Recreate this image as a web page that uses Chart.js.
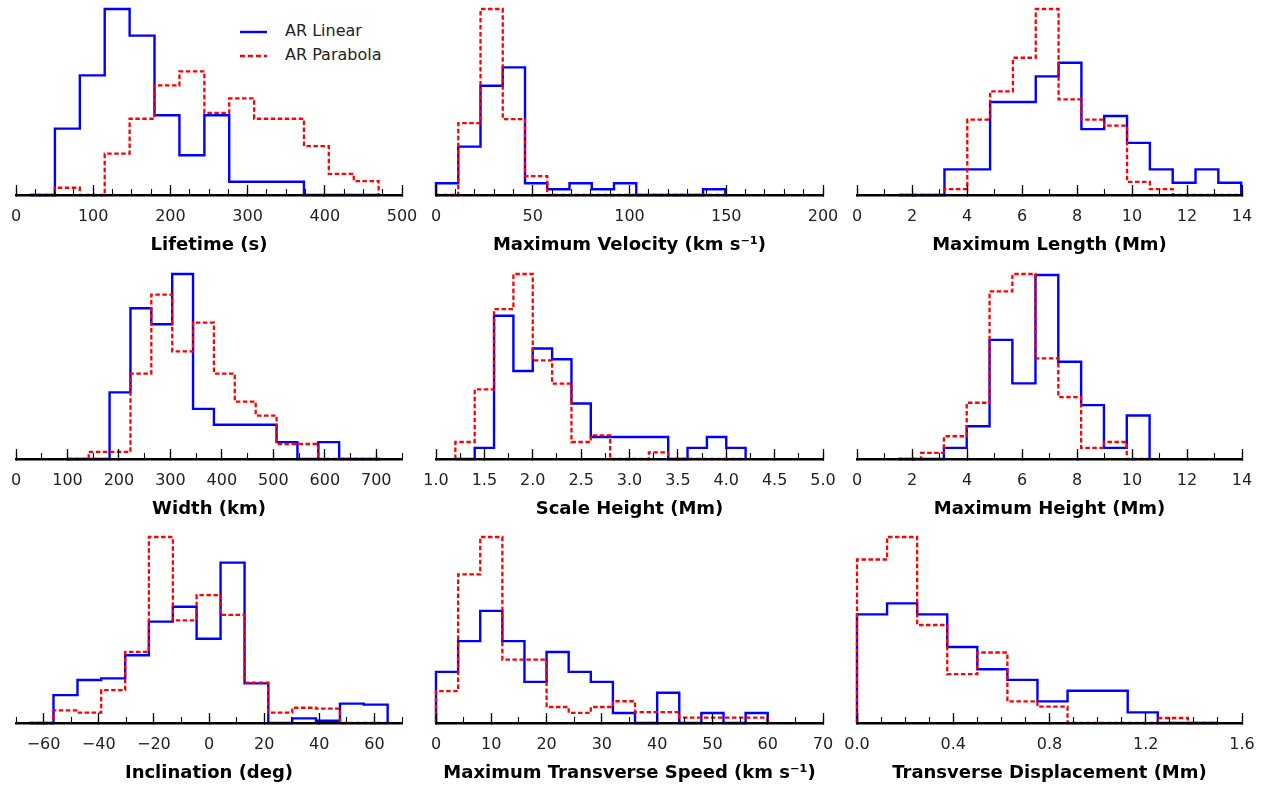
<!DOCTYPE html>
<html>
<head>
<meta charset="utf-8">
<script src="https://cdn.jsdelivr.net/npm/chart.js@4.4.1/dist/chart.umd.min.js"></script>
<style>
	body { margin: 0; background: #fff; width: 1270px; height: 789px; overflow: hidden; position: relative; font-family: "DejaVu Sans", sans-serif; }
	canvas { position: absolute; }
	.legend-row { position: absolute; left: 240px; height: 20px; font-size: 16px; color: #222; white-space: nowrap; }
	.legend-row svg { position: absolute; left: 0; top: 9px; }
	.legend-row span { position: absolute; left: 45px; top: 0; line-height: 20px; }
</style>
</head>
<body>
<div class="legend-row" style="top:21px"><svg width="28" height="4"><line x1="0" y1="2" x2="27" y2="2" stroke="#0000ff" stroke-width="2.4"/></svg><span>AR Linear</span></div>
<div class="legend-row" style="top:45px"><svg width="28" height="4"><line x1="0" y1="2" x2="27" y2="2" stroke="#ff0000" stroke-width="2.4" stroke-dasharray="5 3"/></svg><span>AR Parabola</span></div>
<script>
'use strict';

// bin edges and relative heights (peak of each panel = 1)
const lifetimeEdges = [18.2, 50.4, 82.7, 114.9, 147.2, 179.4, 211.7, 244.0, 276.2, 308.5, 340.7, 373.0, 405.2, 437.5, 469.7];
const lifetimeLinear = [0, 0.357, 0.643, 1.0, 0.857, 0.429, 0.214, 0.429, 0.071, 0.071, 0.071, 0, 0, 0];
const lifetimeParabola = [0, 0.039, 0, 0.222, 0.41, 0.589, 0.665, 0.442, 0.519, 0.41, 0.41, 0.263, 0.114, 0.075];
const lifetimeTicks = [0, 100, 200, 300, 400, 500];
const lifetimeLabels = ['0', '100', '200', '300', '400', '500'];

const velocityEdges = [0, 11.5, 23, 34.5, 46, 57.5, 69, 80.5, 92, 103.5, 115, 126.5, 138, 149.5];
const velocityLinear = [0.063, 0.26, 0.587, 0.686, 0.063, 0.031, 0.063, 0.031, 0.063, 0, 0, 0, 0.031];
const velocityParabola = [0, 0.386, 1.0, 0.408, 0.102, 0, 0, 0, 0, 0, 0, 0, 0];
const velocityTicks = [0, 50, 100, 150, 200];
const velocityLabels = ['0', '50', '100', '150', '200'];

const lengthEdges = [1.52, 2.35, 3.18, 4.01, 4.84, 5.67, 6.50, 7.33, 8.16, 8.99, 9.82, 10.65, 11.48, 12.31, 13.14, 13.97];
const lengthLinear = [0, 0, 0.138, 0.138, 0.5, 0.5, 0.638, 0.711, 0.354, 0.425, 0.28, 0.138, 0.066, 0.138, 0.066];
const lengthParabola = [0, 0, 0.032, 0.405, 0.557, 0.738, 1.0, 0.514, 0.405, 0.373, 0.071, 0.032, 0, 0, 0];
const lengthTicks = [0, 2, 4, 6, 8, 10, 12, 14];
const lengthLabels = ['0', '2', '4', '6', '8', '10', '12', '14'];

const widthEdges = [100.7, 141.2, 181.8, 222.4, 262.9, 303.5, 344.0, 384.6, 425.1, 465.7, 506.3, 546.8, 587.4, 627.9, 668.5, 709.1];
const widthLinear = [0, 0, 0.36, 0.815, 0.728, 1.0, 0.271, 0.185, 0.185, 0.185, 0.091, 0, 0.091, 0, 0];
const widthParabola = [0, 0.038, 0.038, 0.462, 0.889, 0.582, 0.737, 0.462, 0.31, 0.235, 0.081, 0.081, 0, 0, 0];
const widthTicks = [0, 100, 200, 300, 400, 500, 600, 700];
const widthLabels = ['0', '100', '200', '300', '400', '500', '600', '700'];

const scaleEdges = [1.2, 1.4, 1.6, 1.8, 2.0, 2.2, 2.4, 2.6, 2.8, 3.0, 3.2, 3.4, 3.6, 3.8, 4.0, 4.2];
const scaleLinear = [0, 0.06, 0.774, 0.476, 0.597, 0.539, 0.3, 0.119, 0.119, 0.119, 0.119, 0, 0.06, 0.119, 0.06];
const scaleParabola = [0.092, 0.376, 0.81, 1.0, 0.533, 0.407, 0.092, 0.128, 0, 0, 0.036, 0, 0, 0, 0];
const scaleTicks = [1.0, 1.5, 2.0, 2.5, 3.0, 3.5, 4.0, 4.5, 5.0];
const scaleLabels = ['1.0', '1.5', '2.0', '2.5', '3.0', '3.5', '4.0', '4.5', '5.0'];

const heightEdges = [1.50, 2.33, 3.16, 3.99, 4.82, 5.65, 6.49, 7.32, 8.15, 8.98, 9.81, 10.64];
const heightLinear = [0, 0, 0.06, 0.177, 0.644, 0.409, 0.995, 0.526, 0.291, 0.06, 0.235];
const heightParabola = [0, 0.033, 0.123, 0.304, 0.906, 1.0, 0.544, 0.335, 0.06, 0.092, 0];
const heightTicks = [0, 2, 4, 6, 8, 10, 12, 14];
const heightLabels = ['0', '2', '4', '6', '8', '10', '12', '14'];

const inclinationEdges = [-65.1, -56.4, -47.7, -39.1, -30.4, -21.8, -13.1, -4.5, 4.2, 12.9, 21.5, 30.2, 38.8, 47.5, 56.1, 64.8];
const inclinationLinear = [0, 0.15, 0.231, 0.24, 0.364, 0.545, 0.625, 0.453, 0.862, 0.213, 0, 0.025, 0.012, 0.104, 0.099];
const inclinationParabola = [0, 0.068, 0.056, 0.177, 0.382, 1.0, 0.552, 0.688, 0.581, 0.217, 0.056, 0.082, 0.077, 0, 0];
const inclinationTicks = [-60, -40, -20, 0, 20, 40, 60];
const inclinationLabels = ['\u221260', '\u221240', '\u221220', '0', '20', '40', '60'];

const speedEdges = [0, 4, 8, 12, 16, 20, 24, 28, 32, 36, 40, 44, 48, 52, 56, 60];
const speedLinear = [0.275, 0.44, 0.603, 0.44, 0.221, 0.382, 0.275, 0.221, 0.054, 0, 0.163, 0, 0.054, 0, 0.054];
const speedParabola = [0.171, 0.799, 1.0, 0.341, 0.341, 0.086, 0.054, 0.086, 0.117, 0.059, 0.059, 0.029, 0.029, 0.029, 0.029];
const speedTicks = [0, 10, 20, 30, 40, 50, 60, 70];
const speedLabels = ['0', '10', '20', '30', '40', '50', '60', '70'];

const displacementEdges = [0, 0.125, 0.25, 0.375, 0.5, 0.625, 0.75, 0.875, 1.0, 1.125, 1.25, 1.375, 1.5];
const displacementLinear = [0.584, 0.643, 0.584, 0.409, 0.289, 0.232, 0.116, 0.173, 0.173, 0.057, 0, 0];
const displacementParabola = [0.879, 1.0, 0.527, 0.263, 0.379, 0.116, 0.088, 0, 0, 0, 0.027, 0];
const displacementTicks = [0, 0.4, 0.8, 1.2, 1.6];
const displacementLabels = ['0.0', '0.4', '0.8', '1.2', '1.6'];

const panels = [
	{ title: 'Lifetime (s)', edges: lifetimeEdges, linear: lifetimeLinear, parabola: lifetimeParabola, ticks: lifetimeTicks, labels: lifetimeLabels, min: 0, max: 500, minor: 25 },
	{ title: 'Maximum Velocity (km s\u207B\u00B9)', edges: velocityEdges, linear: velocityLinear, parabola: velocityParabola, ticks: velocityTicks, labels: velocityLabels, min: 0, max: 200, minor: 10 },
	{ title: 'Maximum Length (Mm)', edges: lengthEdges, linear: lengthLinear, parabola: lengthParabola, ticks: lengthTicks, labels: lengthLabels, min: 0, max: 14, minor: 1 },
	{ title: 'Width (km)', edges: widthEdges, linear: widthLinear, parabola: widthParabola, ticks: widthTicks, labels: widthLabels, min: 0, max: 750, minor: 50 },
	{ title: 'Scale Height (Mm)', edges: scaleEdges, linear: scaleLinear, parabola: scaleParabola, ticks: scaleTicks, labels: scaleLabels, min: 1, max: 5, minor: 0.25 },
	{ title: 'Maximum Height (Mm)', edges: heightEdges, linear: heightLinear, parabola: heightParabola, ticks: heightTicks, labels: heightLabels, min: 0, max: 14, minor: 1 },
	{ title: 'Inclination (deg)', edges: inclinationEdges, linear: inclinationLinear, parabola: inclinationParabola, ticks: inclinationTicks, labels: inclinationLabels, min: -70, max: 70, minor: 10 },
	{ title: 'Maximum Transverse Speed (km s\u207B\u00B9)', edges: speedEdges, linear: speedLinear, parabola: speedParabola, ticks: speedTicks, labels: speedLabels, min: 0, max: 70, minor: 5 },
	{ title: 'Transverse Displacement (Mm)', edges: displacementEdges, linear: displacementLinear, parabola: displacementParabola, ticks: displacementTicks, labels: displacementLabels, min: 0, max: 1.6, minor: 0.1 },
];

const colLeft = [16, 436, 857];
const colRight = [402, 823, 1242];
const rowTop = [9, 274, 537];
const rowBase = [195, 459, 723];

const padX = 40;
const padTop = 8;
const padBottom = 4;
const axisHeight = 61;

Chart.defaults.font.family = '"DejaVu Sans", sans-serif';

// outline of a step histogram: up at the first edge, across each bin, down at the last edge
const stepPoints = (edges, heights) => {
	const pts = [{ x: edges[0], y: 0 }];
	for (let i = 0; i < heights.length; i++) {
		pts.push({ x: edges[i], y: heights[i] });
	}
	pts.push({ x: edges[edges.length - 1], y: 0 });
	return pts;
};

const drawPanel = (p, idx) => {
	const col = idx % 3;
	const row = Math.floor(idx / 3);
	const left = colLeft[col];
	const right = colRight[col];
	const top = rowTop[row];
	const base = rowBase[row];

	const canvas = document.createElement('canvas');
	canvas.width = right - left + 2 * padX;
	canvas.height = base - top + padTop + axisHeight + padBottom;
	canvas.style.left = (left - padX) + 'px';
	canvas.style.top = (top - padTop) + 'px';
	document.body.appendChild(canvas);

	new Chart(canvas.getContext('2d'), {
		type: 'line',
		data: {
			datasets: [
				{
					label: 'AR Linear',
					data: stepPoints(p.edges, p.linear),
					borderColor: '#0000ff',
					borderWidth: 2.4,
					stepped: true,
					pointRadius: 0,
					fill: false,
					clip: false,
					order: 1,
					xAxisID: 'x',
					yAxisID: 'y',
				},
				{
					label: 'AR Parabola',
					data: stepPoints(p.edges, p.parabola),
					borderColor: '#ff0000',
					borderWidth: 2.3,
					borderDash: [4.5, 2.5],
					stepped: true,
					pointRadius: 0,
					fill: false,
					clip: false,
					order: 0,
					xAxisID: 'x',
					yAxisID: 'y',
				},
			],
		},
		options: {
			responsive: false,
			animation: false,
			events: [],
			layout: { padding: { left: padX, right: padX, top: padTop, bottom: padBottom } },
			plugins: { legend: { display: false }, tooltip: { enabled: false } },
			scales: {
				x: {
					type: 'linear',
					position: 'bottom',
					min: p.min,
					max: p.max,
					border: { display: true, color: '#000', width: 2.6, z: 2 },
					grid: { z: 2, drawOnChartArea: false, drawTicks: true, tickLength: -10, tickColor: '#000', tickWidth: 1.3 },
					ticks: {
						z: 2,
						autoSkip: false,
						maxRotation: 0,
						padding: 22,
						color: '#222',
						font: { size: 16 },
						callback: (v, i) => p.labels[i],
					},
					afterBuildTicks: (scale) => {
						scale.ticks = p.ticks.map((v) => ({ value: v }));
					},
					afterFit: (scale) => {
						scale.height = axisHeight;
						scale.paddingLeft = 0;
						scale.paddingRight = 0;
					},
					title: {
						display: true,
						text: p.title,
						color: '#000',
						font: { size: 18, weight: 'bold' },
						padding: { top: 0, bottom: 0 },
					},
				},
				xm: {
					type: 'linear',
					axis: 'x',
					position: { y: 0 },
					min: p.min,
					max: p.max,
					border: { display: false },
					grid: { z: 2, drawOnChartArea: false, drawTicks: true, tickLength: -6, tickColor: '#000', tickWidth: 1.1 },
					ticks: { display: false, autoSkip: false, stepSize: p.minor },
					afterFit: (scale) => {
						scale.height = 0;
						scale.paddingLeft = 0;
						scale.paddingRight = 0;
					},
				},
				y: {
					type: 'linear',
					display: false,
					min: 0,
					max: 1,
				},
			},
		},
	});
};

window.addEventListener('DOMContentLoaded', () => {
	panels.forEach(drawPanel);
});
</script>
</body>
</html>
